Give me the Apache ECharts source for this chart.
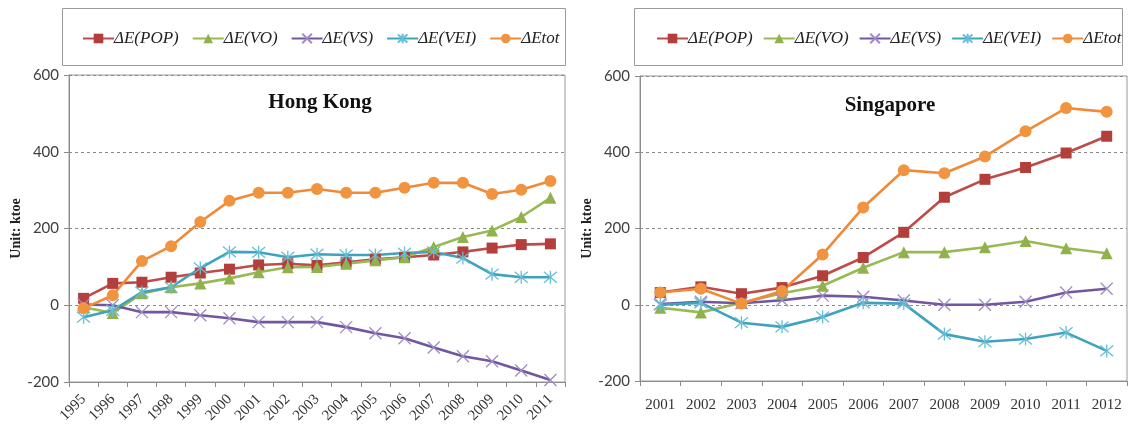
<!DOCTYPE html>
<html>
<head>
<meta charset="utf-8">
<script src="https://cdn.jsdelivr.net/npm/echarts@6/dist/echarts.min.js"></script>
<style>
  html, body { margin: 0; padding: 0; background: #fff; }
  #chart { width: 1129px; height: 428px; }
</style>
</head>
<body>
<div id="chart"></div>
<script>
// Decomposition of energy-consumption change (ktoe)
const seriesNames = ['ΔE(POP)', 'ΔE(VO)', 'ΔE(VS)', 'ΔE(VEI)', 'ΔEtot'];

// Hong Kong, 1995-2011
const hkYears = ['1995','1996','1997','1998','1999','2000','2001','2002','2003','2004','2005','2006','2007','2008','2009','2010','2011'];
const hkPOP = [18, 57, 60, 73, 84, 94, 105, 108, 104, 112, 120, 125, 131, 139, 149, 158, 160];
const hkVO  = [-5, -20, 31, 47, 57, 70, 86, 99, 100, 108, 117, 125, 152, 178, 195, 230, 280];
const hkVS  = [2, 0, -18, -18, -26, -34, -44, -44, -44, -57, -73, -86, -110, -133, -146, -170, -195];
const hkVEI = [-31, -13, 34, 47, 97, 139, 138, 125, 133, 131, 131, 136, 139, 123, 81, 73, 73];
const hkTOT = [-8, 26, 115, 154, 217, 272, 293, 293, 303, 293, 293, 306, 319, 319, 290, 301, 324];

// Singapore, 2001-2012
const sgYears = ['2001','2002','2003','2004','2005','2006','2007','2008','2009','2010','2011','2012'];
const sgPOP = [32, 47, 29, 45, 76, 124, 190, 282, 329, 360, 398, 442];
const sgVO  = [-8, -20, 5, 30, 50, 97, 138, 138, 151, 167, 148, 135];
const sgVS  = [2, 8, 4, 12, 24, 21, 11, 0, 0, 8, 32, 42];
const sgVEI = [0, 5, -47, -58, -32, 5, 3, -77, -97, -90, -73, -121];
const sgTOT = [32, 42, 3, 36, 132, 255, 353, 345, 389, 455, 516, 506];

const yTicks = { min: -200, max: 600, interval: 200 };

const crossPath = 'path://M0,0L10,10M10,0L0,10';
const starPath = 'path://M0,0L10,10M10,0L0,10M5,-1L5,11';

const styles = [
  { symbol: 'rect',     size: 11, line: '#BE4B48', fill: '#B33E3B', border: '#B33E3B', bw: 0 },
  { symbol: 'triangle', size: 12, line: '#98B954', fill: '#8FB24C', border: '#8FB24C', bw: 0 },
  { symbol: crossPath,  size: 12, line: '#7356A0', fill: 'transparent', border: '#A08CC4', bw: 1.3 },
  { symbol: starPath,   size: 13, line: '#3FA3BE', fill: 'transparent', border: '#67BDD5', bw: 1.3 },
  { symbol: 'circle',   size: 12, line: '#F08A38', fill: '#F0943F', border: '#F0943F', bw: 0 }
];

function buildSeries(idx, arrays) {
  return arrays.map((data, i) => ({
    name: seriesNames[i],
    type: 'line',
    xAxisIndex: idx,
    yAxisIndex: idx,
    data: data,
    symbol: styles[i].symbol,
    symbolSize: styles[i].size,
    showAllSymbol: true,
    lineStyle: { color: styles[i].line, width: 2.6 },
    itemStyle: { color: styles[i].fill, borderColor: styles[i].border, borderWidth: styles[i].bw },
    emphasis: { disabled: true },
    animation: false
  }));
}

const serif = 'Liberation Serif, Times New Roman, serif';
const sans = 'Lato, Carlito, Liberation Sans, sans-serif';

function yAxis(idx) {
  return {
    type: 'value',
    gridIndex: idx,
    min: yTicks.min, max: yTicks.max, interval: yTicks.interval,
    name: 'Unit: ktoe',
    nameLocation: 'middle',
    nameGap: 44,
    nameTextStyle: { fontFamily: serif, fontWeight: 'bold', fontSize: 14, color: '#222' },
    axisLine: { show: true, lineStyle: { color: '#8c8c8c', width: 1 } },
    axisTick: { show: true, length: 5, lineStyle: { color: '#8c8c8c' } },
    axisLabel: { fontFamily: sans, fontSize: 15, color: '#404040', margin: 10 },
    splitLine: { show: true, lineStyle: { color: '#8a8a8a', type: [3, 3], width: 1 } }
  };
}

function xAxis(idx, cats, rotate) {
  return {
    type: 'category',
    gridIndex: idx,
    data: cats,
    boundaryGap: true,
    axisLine: { onZero: false, lineStyle: { color: '#8c8c8c', width: 1 } },
    axisTick: { show: true, length: 5, lineStyle: { color: '#8c8c8c' } },
    axisLabel: {
      interval: 0,
      rotate: rotate,
      fontFamily: serif,
      fontSize: 15,
      color: '#333',
      margin: rotate ? 15 : 17
    },
    splitLine: { show: false }
  };
}

function legend(left, gap) {
  return {
    data: seriesNames,
    left: left,
    top: 30,
    itemWidth: 31,
    itemHeight: 12,
    itemGap: gap,
    padding: 0,
    selectedMode: false,
    textStyle: { fontFamily: serif, fontStyle: 'italic', fontSize: 17, color: '#222', padding: [0, 0, 0, -5] }
  };
}

const chart = echarts.init(document.getElementById('chart'), null, { renderer: 'canvas' });
chart.setOption({
  backgroundColor: '#fff',
  animation: false,
  title: [
    { text: 'Hong Kong', left: 315, top: 87, textAlign: 'center',
      textStyle: { fontFamily: serif, fontWeight: 'bold', fontSize: 21, color: '#111' } },
    { text: 'Singapore', left: 885, top: 90, textAlign: 'center',
      textStyle: { fontFamily: serif, fontWeight: 'bold', fontSize: 21, color: '#111' } }
  ],
  graphic: [
    { type: 'rect', shape: { x: 62.5, y: 8.5, width: 503, height: 57 },
      style: { fill: 'none', stroke: '#9a9a9a', lineWidth: 1 }, silent: true },
    { type: 'rect', shape: { x: 634.5, y: 8.5, width: 488, height: 57 },
      style: { fill: 'none', stroke: '#9a9a9a', lineWidth: 1 }, silent: true }
  ],
  legend: [legend(82, 13), legend(656, 10)],
  grid: [
    { left: 69, top: 75, width: 496, height: 307, show: true, borderColor: '#9a9a9a', borderWidth: 1 },
    { left: 640, top: 76, right: 2, bottom: 47, show: true, borderColor: '#9a9a9a', borderWidth: 1 }
  ],
  xAxis: [xAxis(0, hkYears, 45), xAxis(1, sgYears, 0)],
  yAxis: [yAxis(0), yAxis(1)],
  series: [
    ...buildSeries(0, [hkPOP, hkVO, hkVS, hkVEI, hkTOT]),
    ...buildSeries(1, [sgPOP, sgVO, sgVS, sgVEI, sgTOT])
  ]
});
</script>
</body>
</html>
